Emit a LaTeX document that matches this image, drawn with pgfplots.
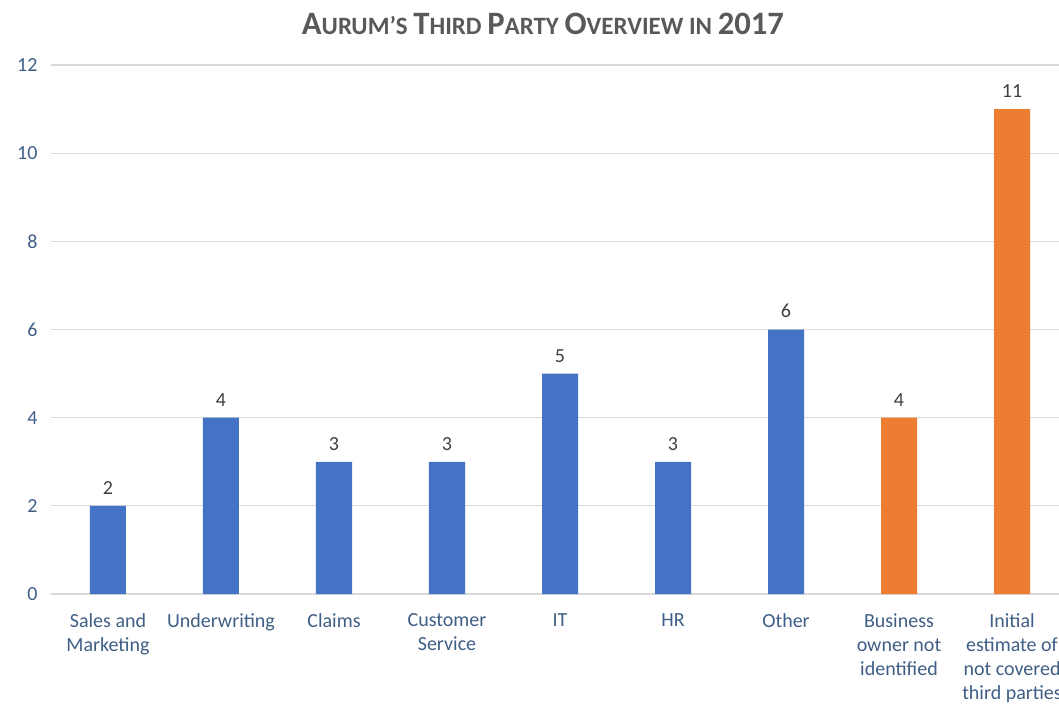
\documentclass[border=0pt]{standalone}
\usepackage{pgfplots}
\pgfplotsset{compat=1.18}
\usepackage{fontspec}
\setmainfont{Carlito}
\definecolor{barblue}{HTML}{4472C4}
\definecolor{barorange}{HTML}{ED7D31}
\definecolor{gridgray}{HTML}{D9D9D9}
\definecolor{ticktext}{HTML}{3F5E85}
\definecolor{labeltext}{HTML}{404040}
\definecolor{titletext}{HTML}{595959}
\newcommand{\TL}[1]{{\fontsize{24.5}{28}\selectfont #1}}
\newcommand{\TS}[1]{{\fontsize{18.7}{22}\selectfont #1}}
\begin{document}
\begin{tikzpicture}
\begin{axis}[
  scale only axis, width=762.75pt, height=396.75pt,
  xmin=-0.5, xmax=8.5, ymin=0, ymax=12,
  ytick={0,2,4,6,8,10,12}, xtick={0,1,2,3,4,5,6,7,8},
  xticklabels={{Sales and\\Marketing}, Underwriting, Claims, {Customer\\Service}, IT, HR, Other, {Business\\owner not\\identified}, {Initial\\estimate of\\not covered\\third parties}},
  ymajorgrids, grid style={gridgray, line width=0.9pt},
  axis line style={draw=none},
  major tick length=0pt,
  /pgf/number format/assume math mode=true,
  tick label style={font=\fontsize{15}{18}\selectfont, text=ticktext},
  xticklabel style={align=center, anchor=north, yshift=-11pt},
  yticklabel style={anchor=east, xshift=-7pt},
  ybar, bar width=27pt,
  nodes near coords,
  nodes near coords style={font=\fontsize{15}{18}\selectfont, text=labeltext, yshift=5pt},
  clip=false,
]
\addplot[fill=barblue, draw=none, bar shift=0pt] coordinates {(0,2) (1,4) (2,3) (3,3) (4,5) (5,3) (6,6)};
\addplot[fill=barorange, draw=none, bar shift=0pt] coordinates {(7,4) (8,11)};
\coordinate (SW) at (rel axis cs:0,0);
\node[text=titletext, font=\bfseries\fontsize{18.7}{22}\selectfont, anchor=center] at ([xshift=368.6pt, yshift=30.75pt]rel axis cs:0,1)
  {\TL{A}\TS{URUM’S} \TL{T}\TS{HIRD} \TL{P}\TS{ARTY} \TL{O}\TS{VERVIEW IN} \TL{2017}};
\end{axis}
\pgfresetboundingbox
\path[use as bounding box] (SW) ++(-38.625pt,-81.75pt) rectangle ++(794.25pt,527.25pt);
\end{tikzpicture}
\end{document}
